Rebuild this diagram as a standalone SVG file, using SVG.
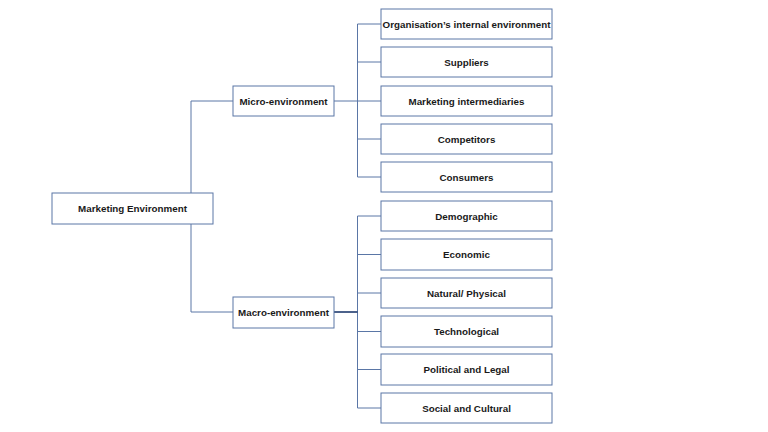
<svg xmlns="http://www.w3.org/2000/svg" width="768" height="432" viewBox="0 0 768 432">
<style>
.box{fill:#ffffff;stroke:#5a76a6;stroke-width:1}
.lbl{font-family:"Liberation Sans",Arial,sans-serif;font-weight:bold;font-size:9.8px;fill:#1a1a1a;text-anchor:middle}
.ln{fill:none;stroke:#5a76a6;stroke-width:1}
.dk{fill:none;stroke:#1f3a6e;stroke-width:1.6}
</style>
<rect width="768" height="432" fill="#ffffff"/>
<g id="connectors">
<path class="ln" d="M191,193 V101 H233 M191,224 V312 H233"/>
<path class="ln" d="M334,101 H381 M357.5,24 V177 M357.5,24 H381 M357.5,62 H381 M357.5,139 H381 M357.5,177 H381"/>
<path class="ln" d="M357.5,216 V408 M357.5,216 H381 M357.5,254.5 H381 M357.5,293 H381 M357.5,331.5 H381 M357.5,369.5 H381 M357.5,408 H381"/>
<path class="dk" d="M334,312 H357.5"/>
</g>
<g id="marketing-environment"><rect class="box" x="52" y="193" width="161" height="31"/><text class="lbl" x="132.5" y="212">Marketing Environment</text></g>
<g id="micro-environment"><rect class="box" x="233" y="86" width="101" height="30"/><text class="lbl" x="283.5" y="104.5">Micro-environment</text></g>
<g id="macro-environment"><rect class="box" x="233" y="297" width="101" height="31"/><text class="lbl" x="283.5" y="315.5">Macro-environment</text></g>
<g id="internal"><rect class="box" x="381" y="9" width="171" height="30"/><text class="lbl" x="466.5" y="27.5">Organisation’s internal environment</text></g>
<g id="suppliers"><rect class="box" x="381" y="47" width="171" height="30"/><text class="lbl" x="466.5" y="65.5">Suppliers</text></g>
<g id="intermediaries"><rect class="box" x="381" y="86" width="171" height="30"/><text class="lbl" x="466.5" y="104.5">Marketing intermediaries</text></g>
<g id="competitors"><rect class="box" x="381" y="124" width="171" height="30"/><text class="lbl" x="466.5" y="142.5">Competitors</text></g>
<g id="consumers"><rect class="box" x="381" y="162" width="171" height="30"/><text class="lbl" x="466.5" y="180.5">Consumers</text></g>
<g id="demographic"><rect class="box" x="381" y="201" width="171" height="30"/><text class="lbl" x="466.5" y="219.5">Demographic</text></g>
<g id="economic"><rect class="box" x="381" y="239" width="171" height="31"/><text class="lbl" x="466.5" y="258">Economic</text></g>
<g id="natural"><rect class="box" x="381" y="278" width="171" height="30"/><text class="lbl" x="466.5" y="296.5">Natural/ Physical</text></g>
<g id="technological"><rect class="box" x="381" y="316" width="171" height="31"/><text class="lbl" x="466.5" y="335">Technological</text></g>
<g id="political"><rect class="box" x="381" y="354" width="171" height="31"/><text class="lbl" x="466.5" y="373">Political and Legal</text></g>
<g id="social"><rect class="box" x="381" y="393" width="171" height="30"/><text class="lbl" x="466.5" y="411.5">Social and Cultural</text></g>
</svg>
